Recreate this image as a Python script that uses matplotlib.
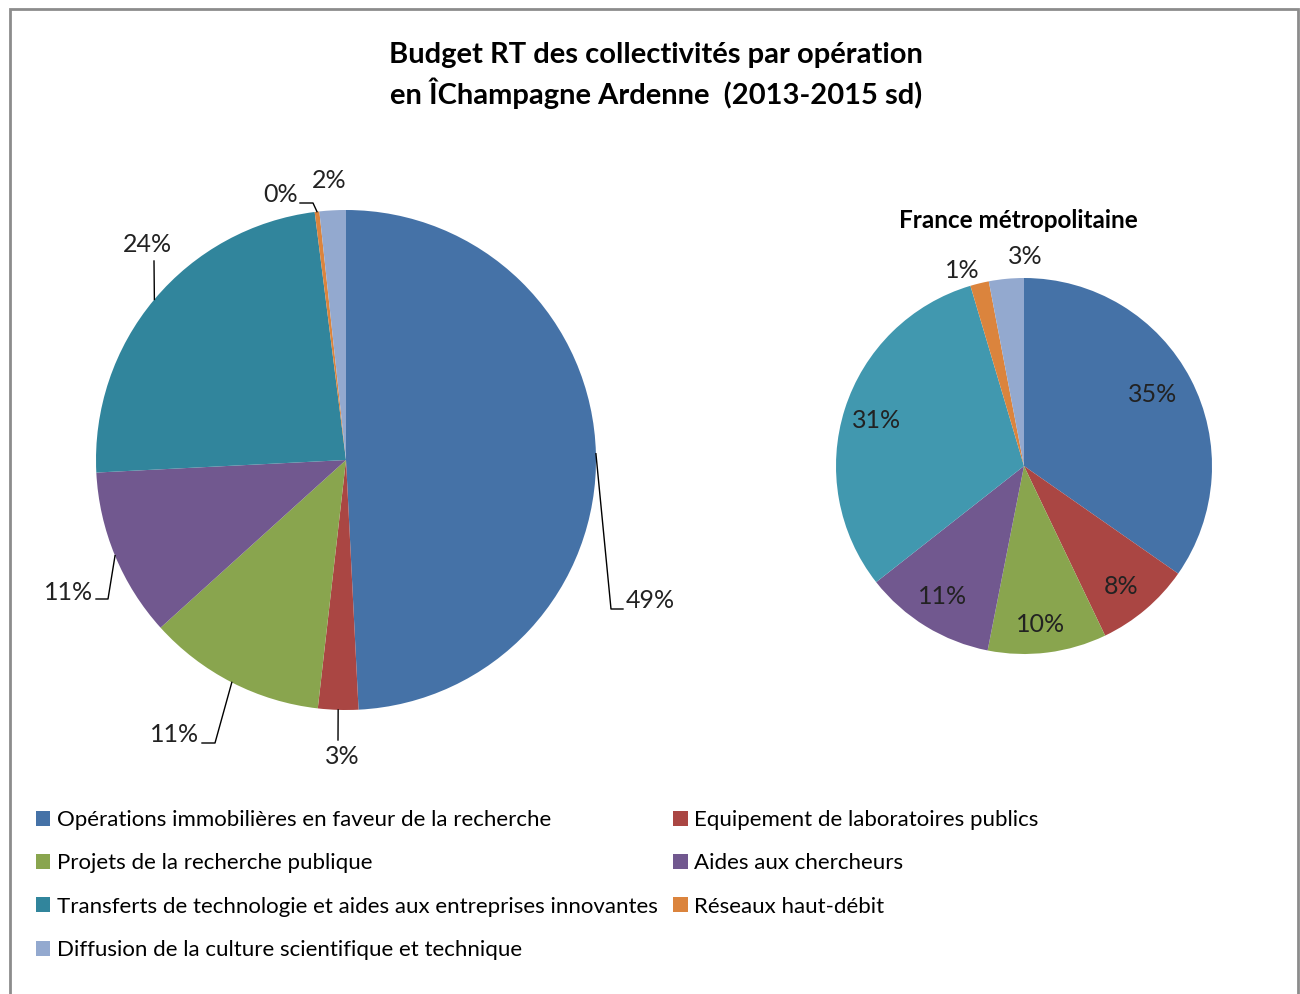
import matplotlib
matplotlib.use('Agg')
import matplotlib.pyplot as plt
from matplotlib.patches import Patch, Rectangle
import numpy as np

plt.rcParams['font.family'] = ['Lato', 'DejaVu Sans']

# donnees
categories = ['Opérations immobilières en faveur de la recherche',
              'Equipement de laboratoires publics',
              'Projets de la recherche publique',
              'Aides aux chercheurs',
              'Transferts de technologie et aides aux entreprises innovantes',
              'Réseaux haut-débit',
              'Diffusion de la culture scientifique et technique']
champagne = [49.2, 2.6, 11.5, 10.9, 23.8, 0.3, 1.7]
champagne_lbl = ['49%', '3%', '11%', '11%', '24%', '0%', '2%']
france = [34.7, 8.2, 10.2, 11.3, 31.0, 1.6, 3.0]
france_lbl = ['35%', '8%', '10%', '11%', '31%', '1%', '3%']

couleurs_g = ['#4572A7', '#AA4643', '#89A54E', '#71588F', '#31859C', '#DB843D', '#93A9CF']
couleurs_d = ['#4572A7', '#AA4643', '#89A54E', '#71588F', '#4198AF', '#DB843D', '#93A9CF']

H = 994
def py(y):
    # coordonnees pixel depuis le haut
    return H - y

fig = plt.figure(figsize=(13, 9.94), dpi=100)
ax = fig.add_axes([0, 0, 1, 1])

# cadre gris
ax.add_patch(Rectangle((10, py(1000)), 1288, 991, fill=False, edgecolor='#8c8c8c', lw=2))

ax.text(656, py(55), 'Budget RT des collectivités par opération', ha='center', va='center',
        fontsize=21, fontweight='bold')
ax.text(656, py(93), 'en ÎChampagne Ardenne  (2013-2015 sd)', ha='center', va='center',
        fontsize=21, fontweight='bold')

# camembert gauche
cg = (346, py(460)); rg = 250
wg, _ = ax.pie(champagne, colors=couleurs_g, startangle=90, counterclock=False,
               center=cg, radius=rg, wedgeprops=dict(linewidth=0), frame=True)

# lignes de rappel : (coude, fin de ligne, position du texte, alignement)
rappels = [((611, 609), (623, 609), (626, 600), 'left'),
           ((338, 740), None, (342, 757), 'center'),
           ((215, 743), (202, 743), (199, 735), 'right'),
           ((108, 599), (96, 599), (93, 592), 'right'),
           ((154, 261), None, (147, 244), 'center'),
           ((313, 203), (300, 203), (298, 195), 'right'),
           (None, None, (329, 180), 'center')]
for w, lbl, (coude, fin, pos, al) in zip(wg, champagne_lbl, rappels):
    a = np.deg2rad((w.theta1 + w.theta2) / 2)
    x0 = cg[0] + rg * np.cos(a)
    y0 = cg[1] + rg * np.sin(a)
    if coude is not None:
        xs = [x0, coude[0]]
        ys = [y0, py(coude[1])]
        if fin is not None:
            xs.append(fin[0]); ys.append(py(fin[1]))
        ax.plot(xs, ys, color='black', lw=1)
    ax.text(pos[0], py(pos[1]), lbl, ha=al, va='center', fontsize=18, color='#222222')

# camembert droit
cd = (1024, py(466)); rd = 188
wd, _ = ax.pie(france, colors=couleurs_d, startangle=90, counterclock=False,
               center=cd, radius=rd, wedgeprops=dict(linewidth=0), frame=True)
pos_d = [(1153, 394), (1121, 586), (1041, 625), (943, 597), (877, 420), (962, 270), (1025, 256)]
for lbl, p in zip(france_lbl, pos_d):
    ax.text(p[0], py(p[1]), lbl, ha='center', va='center', fontsize=18, color='#222222')
ax.text(1018, py(220), 'France métropolitaine', ha='center', va='center', fontsize=17.5,
        fontweight='bold')

ax.set_xlim(0, 1300)
ax.set_ylim(0, H)
ax.set_aspect('auto')
ax.axis('off')

# legende (ordre ligne par ligne comme Excel)
ordre = [0, 2, 4, 6, 1, 3, 5]
handles = [Patch(facecolor=couleurs_g[i], label=categories[i]) for i in ordre]
fig.legend(handles=handles, loc='upper left', bbox_to_anchor=(36 / 1300, 1 - 810 / H), ncol=2,
           frameon=False, fontsize=16, handlelength=0.65, handleheight=0.65, handletextpad=0.3,
           labelspacing=1.05, columnspacing=0.68, borderaxespad=0, borderpad=0)

fig.savefig('out.png', dpi=100)
